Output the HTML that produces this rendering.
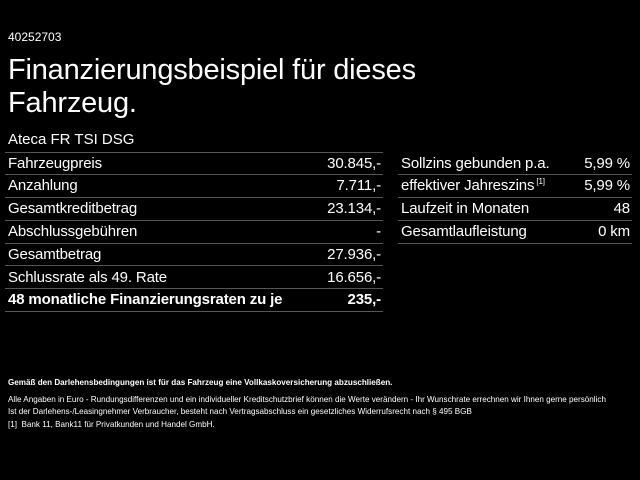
<!DOCTYPE html>
<html><head><meta charset="utf-8"><style>
body{margin:0;width:640px;height:480px;background:#000;color:#fff;font-family:"Liberation Sans",sans-serif;position:relative;overflow:hidden}
.a{position:absolute;white-space:nowrap}
.row{position:absolute;height:22.8px;border-bottom:1px solid #555;font-size:15px;line-height:22px;box-sizing:border-box;letter-spacing:-0.15px}
.row span{position:absolute;right:2px;top:0}
sup{font-size:8px;line-height:0;vertical-align:6px}
</style></head><body>
<div class="a" style="left:8px;top:30px;font-size:12px">40252703</div>
<div class="a" style="left:8px;top:54px;font-size:29px;line-height:33px;letter-spacing:-0.2px">Finanzierungsbeispiel für dieses<br>Fahrzeug.</div>
<div class="a" style="left:8px;top:131px;font-size:15px">Ateca FR TSI DSG</div>
<div style="position:absolute;left:5px;top:152px;width:378px;border-top:1px solid #555"></div>
<div class="row" style="left:5px;top:152.5px;width:378px;padding-left:3px">Fahrzeugpreis<span>30.845,-</span></div>
<div class="row" style="left:5px;top:175.3px;width:378px;padding-left:3px">Anzahlung<span>7.711,-</span></div>
<div class="row" style="left:5px;top:198.1px;width:378px;padding-left:3px">Gesamtkreditbetrag<span>23.134,-</span></div>
<div class="row" style="left:5px;top:220.9px;width:378px;padding-left:3px">Abschlussgebühren<span>-</span></div>
<div class="row" style="left:5px;top:243.7px;width:378px;padding-left:3px">Gesamtbetrag<span>27.936,-</span></div>
<div class="row" style="left:5px;top:266.5px;width:378px;padding-left:3px">Schlussrate als 49. Rate<span>16.656,-</span></div>
<div class="row" style="left:5px;top:289.3px;width:378px;padding-left:3px;font-weight:bold">48 monatliche Finanzierungsraten zu je<span>235,-</span></div>
<div class="row" style="left:398px;top:152.5px;width:234px;padding-left:3px">Sollzins gebunden p.a.<span>5,99 %</span></div>
<div class="row" style="left:398px;top:175.3px;width:234px;padding-left:3px">effektiver Jahreszins<sup> [1]</sup><span>5,99 %</span></div>
<div class="row" style="left:398px;top:198.1px;width:234px;padding-left:3px">Laufzeit in Monaten<span>48</span></div>
<div class="row" style="left:398px;top:220.9px;width:234px;padding-left:3px">Gesamtlaufleistung<span>0 km</span></div>
<div class="a" style="left:8px;top:378px;font-size:8.1px;font-weight:bold">Gemäß den Darlehensbedingungen ist für das Fahrzeug eine Vollkaskoversicherung abzuschließen.</div>
<div class="a" style="left:8px;top:394px;font-size:8.1px;line-height:12px">Alle Angaben in Euro - Rundungsdifferenzen und ein individueller Kreditschutzbrief können die Werte verändern - Ihr Wunschrate errechnen wir Ihnen gerne persönlich<br>Ist der Darlehens-/Leasingnehmer Verbraucher, besteht nach Vertragsabschluss ein gesetzliches Widerrufsrecht nach § 495 BGB</div>
<div class="a" style="left:8px;top:420px;font-size:8.1px">[1]&nbsp; Bank 11, Bank11 für Privatkunden und Handel GmbH.</div>
</body></html>
